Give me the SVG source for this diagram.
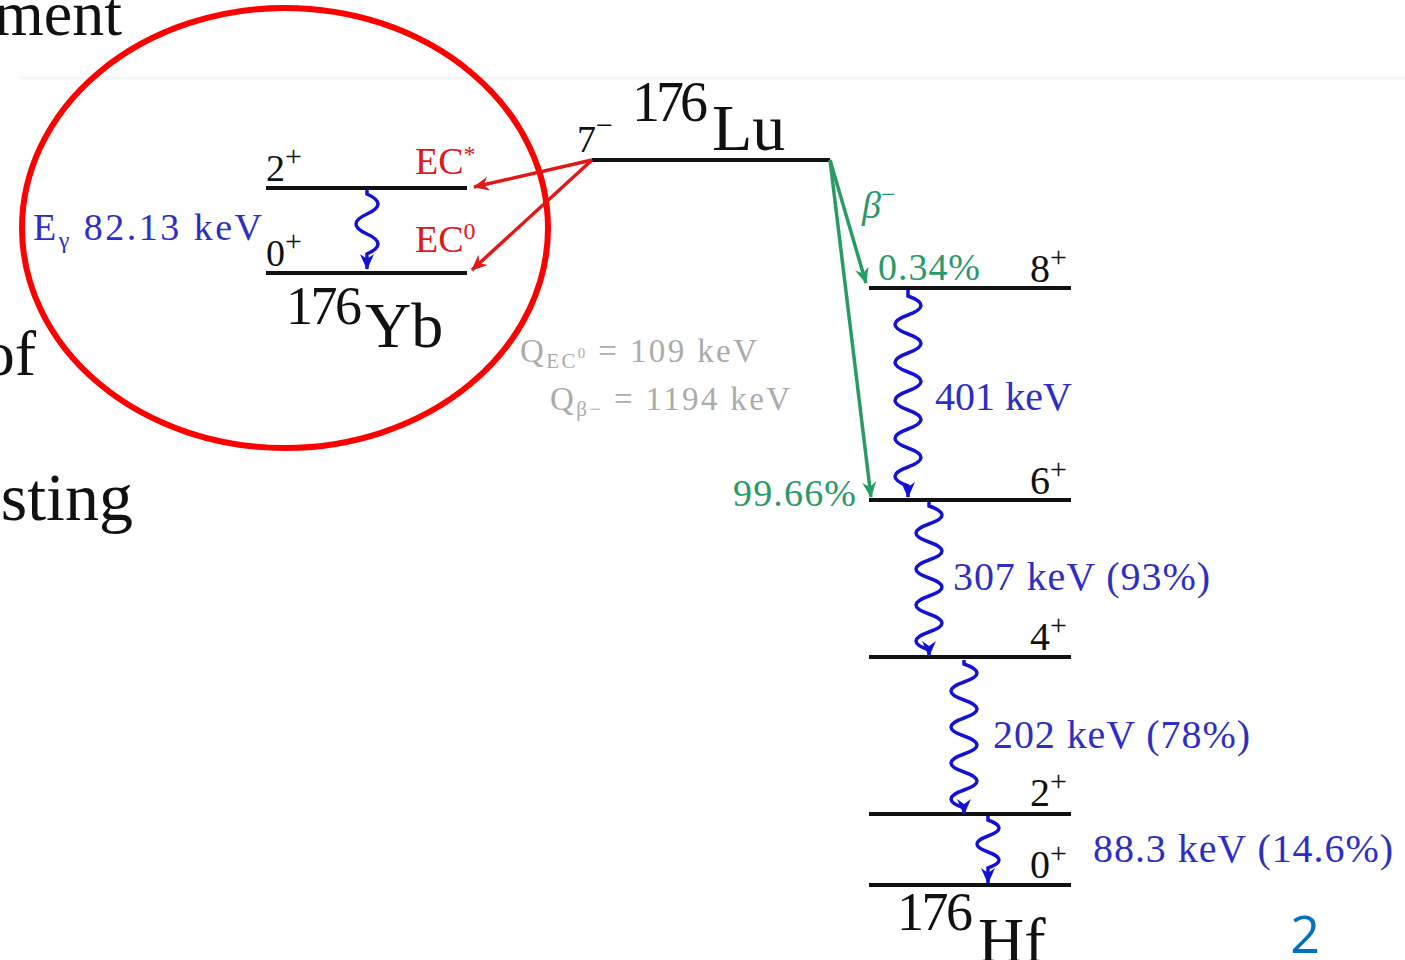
<svg xmlns="http://www.w3.org/2000/svg" width="1405" height="960" viewBox="0 0 1405 960">
<style>
  text { font-family: "Liberation Serif", "DejaVu Serif", serif; }
  .lvl { stroke: #111; stroke-width: 4; fill: none; }
  .bk { fill: #111; }
  .red { fill: #e01818; }
  .grn { fill: #2a9a66; }
  .blu { fill: #2e2ec4; }
  .gry { fill: #ababab; }
  .wave { stroke: #1212d4; stroke-width: 3.5; fill: none; marker-end: url(#ab); }
  .ra { stroke: #e01818; stroke-width: 3.5; fill: none; marker-end: url(#ar); }
  .ga { stroke: #2a9a66; stroke-width: 3.5; fill: none; marker-end: url(#ag); }
</style>
<defs>
  <marker id="ar" markerUnits="userSpaceOnUse" markerWidth="18" markerHeight="16" refX="15" refY="8" orient="auto"><path d="M0,1 L16,8 L0,15 L5,8 z" fill="#e01818"/></marker>
  <marker id="ag" markerUnits="userSpaceOnUse" markerWidth="18" markerHeight="16" refX="15" refY="8" orient="auto"><path d="M0,1 L16,8 L0,15 L5,8 z" fill="#2a9a66"/></marker>
  <marker id="ab" markerUnits="userSpaceOnUse" markerWidth="18" markerHeight="16" refX="15" refY="8" orient="auto"><path d="M0,1 L16,8 L0,15 L5,8 z" fill="#1212d4"/></marker>
</defs>
<rect width="1405" height="960" fill="#fff"/>

<!-- slide background fragments -->
<g id="slide-bg">
  <line x1="20" y1="78" x2="1405" y2="78" stroke="#f6f6f6" stroke-width="3"/>
  <text x="122" y="35" font-size="64" text-anchor="end" class="bk">ment</text>
  <text x="36" y="375" font-size="64" text-anchor="end" class="bk">of</text>
  <text x="133" y="520" font-size="68" text-anchor="end" class="bk">sting</text>
  <text x="1305" y="953" font-size="52" text-anchor="middle" fill="#0070c0" style="font-family:'Open Sans','Liberation Sans',sans-serif">2</text>
</g>

<!-- highlight ellipse -->
<g id="highlight">
  <ellipse cx="285" cy="228" rx="263" ry="220" fill="none" stroke="#ff0000" stroke-width="6"/>
</g>

<!-- Lu-176 -->
<g id="lu176">
  <line class="lvl" x1="592" y1="160" x2="830" y2="160"/>
  <text x="632" y="121" font-size="56" class="bk" textLength="76">176</text>
  <text x="712" y="150" font-size="66" class="bk">Lu</text>
  <text x="577" y="152" font-size="38" class="bk">7<tspan dy="-17" font-size="30">−</tspan></text>
</g>

<!-- Yb-176 -->
<g id="yb176">
  <line class="lvl" x1="266" y1="188" x2="467" y2="188"/>
  <line class="lvl" x1="266" y1="273" x2="467" y2="273"/>
  <text x="266" y="181" font-size="38" class="bk">2<tspan dy="-15" font-size="30">+</tspan></text>
  <text x="266" y="266" font-size="38" class="bk">0<tspan dy="-15" font-size="30">+</tspan></text>
  <text x="415" y="174" font-size="38" class="red">EC<tspan dy="-12" font-size="24">*</tspan></text>
  <text x="415" y="252" font-size="38" class="red">EC<tspan dy="-13" font-size="24">0</tspan></text>
  <text x="33" y="240" font-size="38" class="blu" textLength="229">E<tspan dy="8" font-size="24">γ</tspan><tspan dy="-8"> 82.13 keV</tspan></text>
  <text x="286" y="324" font-size="54" class="bk" textLength="76">176</text>
  <text x="365" y="347" font-size="64" class="bk">Yb</text>
</g>

<!-- Q values -->
<g id="qvalues">
  <text x="520" y="362" font-size="33" class="gry" textLength="237">Q<tspan dy="6" font-size="21">EC</tspan><tspan dy="-10" font-size="15">0</tspan><tspan dy="4" font-size="33"> = 109 keV</tspan></text>
  <text x="550" y="410" font-size="33" class="gry" textLength="240">Q<tspan dy="6" font-size="21">β−</tspan><tspan dy="-6" font-size="33"> = 1194 keV</tspan></text>
</g>

<!-- Hf-176 -->
<g id="hf176">
  <line class="lvl" x1="869" y1="288" x2="1071" y2="288"/>
  <line class="lvl" x1="869" y1="500" x2="1071" y2="500"/>
  <line class="lvl" x1="869" y1="657" x2="1071" y2="657"/>
  <line class="lvl" x1="869" y1="814" x2="1071" y2="814"/>
  <line class="lvl" x1="869" y1="885" x2="1071" y2="885"/>
  <text x="1030" y="282" font-size="40" class="bk">8<tspan dy="-15" font-size="30">+</tspan></text>
  <text x="1030" y="494" font-size="40" class="bk">6<tspan dy="-15" font-size="30">+</tspan></text>
  <text x="1030" y="650" font-size="40" class="bk">4<tspan dy="-15" font-size="30">+</tspan></text>
  <text x="1030" y="806" font-size="40" class="bk">2<tspan dy="-15" font-size="30">+</tspan></text>
  <text x="1030" y="878" font-size="40" class="bk">0<tspan dy="-15" font-size="30">+</tspan></text>
  <text x="897" y="930" font-size="54" class="bk" textLength="76">176</text>
  <text x="978" y="962" font-size="64" class="bk">Hf</text>
</g>

<!-- labels -->
<g id="labels">
  <text x="862" y="218" font-size="38" font-style="italic" class="grn">β<tspan dy="-15" font-size="26" font-style="normal">−</tspan></text>
  <text x="878" y="280" font-size="38" class="grn" textLength="102">0.34%</text>
  <text x="733" y="506" font-size="38" class="grn" textLength="123">99.66%</text>
  <text x="935" y="410" font-size="40" class="blu" textLength="137">401 keV</text>
  <text x="953" y="590" font-size="40" class="blu" textLength="257">307 keV (93%)</text>
  <text x="993" y="748" font-size="40" class="blu" textLength="257">202 keV (78%)</text>
  <text x="1093" y="862" font-size="40" class="blu" textLength="300">88.3 keV (14.6%)</text>
</g>

<!-- connectors -->
<g id="connectors">
  <path class="ra" d="M592,160 L474,187"/>
  <path class="ra" d="M592,160 L472,270"/>
  <path class="ga" d="M830,160 L866,283"/>
  <path class="ga" d="M830,160 L871,497"/>
  <path class="wave" d="M367,190 v4 q22,10 0,20 t0,20 t0,20 v15"/>
  <path class="wave" d="M908,290 v6 q26,9.5 0,19 t0,19 t0,19 t0,19 t0,19 t0,19 t0,19 t0,19 t0,19 t0,19 v11"/>
  <path class="wave" d="M929,502 v4 q26,9 0,18 t0,18 t0,18 t0,18 t0,18 t0,18 t0,18 t0,18 v6"/>
  <path class="wave" d="M964,660 v4 q26,9 0,18 t0,18 t0,18 t0,18 t0,18 t0,18 t0,18 t0,18 v6"/>
  <path class="wave" d="M988,816 v4 q22,8 0,16 t0,16 t0,16 v15"/>
</g>
</svg>
